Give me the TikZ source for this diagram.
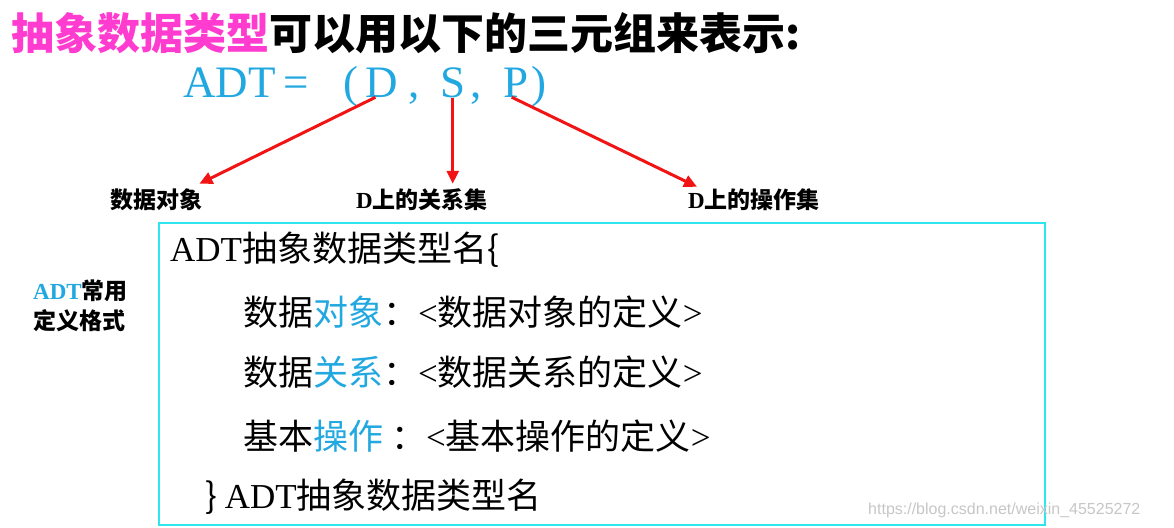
\documentclass[tikz,border=0pt]{standalone}
\usepackage{fontspec}
\usepackage{xcolor}
\setmainfont{Liberation Serif}
\newfontfamily\cjk{Noto Sans CJK SC}
\newfontfamily\marksans{Liberation Sans}
\usetikzlibrary{arrows.meta}
\definecolor{adt-blue}{HTML}{22A8E0}
\definecolor{title-pink}{HTML}{FF3CCF}
\definecolor{frame-cyan}{HTML}{2EE6EE}
\definecolor{arrow-red}{HTML}{F21414}
\newcommand{\adthl}[1]{\textcolor{adt-blue}{#1}}
\newcommand{\seriftxt}[1]{{\rmfamily #1}}
\tikzset{
    title-text/.style = {anchor=west, inner sep=0pt, font=\cjk\bfseries\fontsize{43}{43}\selectfont},
    adt-letter/.style = {anchor=base west, inner sep=0pt, text=adt-blue, font=\fontsize{45}{45}\selectfont},
    red-arrow/.style = {draw=arrow-red, line width=3pt, -{Triangle[length=13pt,width=12pt]}},
    set-label/.style = {anchor=west, inner sep=0pt, font=\cjk\bfseries\fontsize{23}{23}\selectfont},
    def-box/.style = {draw=frame-cyan, line width=1.2pt, minimum width=886pt, minimum height=302pt, inner sep=0pt},
    def-line/.style = {anchor=west, inner sep=0pt, font=\cjk\fontsize{35}{35}\selectfont},
}

\begin{document}
\begin{tikzpicture}[x=1pt, y=-1pt]
\useasboundingbox (0,0) rectangle (1174,527);
\node[title-text] (title) at (11,33) {\textcolor{title-pink}{抽象数据类型}可以用以下的三元组来表示:};

\node[adt-letter] (adt) at (183,97) {ADT};
\node[adt-letter] (eq) at (283,97) {=};
\node[adt-letter] (lpar) at (343,97) {(};
\node[adt-letter] (d) at (365,97) {D};
\node[adt-letter] (c1) at (408,97) {,};
\node[adt-letter] (s) at (440,97) {S};
\node[adt-letter] (c2) at (470,97) {,};
\node[adt-letter] (p) at (503,97) {P};
\node[adt-letter] (rpar) at (531,97) {)};

\node[set-label] (obj-set) at (110,200) {数据对象};
\node[set-label] (rel-set) at (356,200) {{\rmfamily\bfseries D}上的关系集};
\node[set-label] (op-set) at (688,200) {{\rmfamily\bfseries D}上的操作集};

\draw[red-arrow] ([xshift=-6pt]d.south) -- ([shift={(-3pt,5pt)}]obj-set.north east);
\draw[red-arrow] (s.south) -- ([yshift=5pt]s.south |- rel-set.north);
\draw[red-arrow] ([xshift=-4pt]p.south) -- ([shift={(9pt,2pt)}]op-set.north west);

\node[set-label] (note-a) at (33,291) {\seriftxt{\bfseries\adthl{ADT}}常用};
\node[set-label] (note-b) at (33,321) {定义格式};

\node[def-box] (frame) at (602,374) {};
\node[def-line] (head) at (170,250) {\seriftxt{ADT}抽象数据类型名\{};
\node[def-line] (obj) at (243,312) {数据\adthl{对象}：\seriftxt{<}数据对象的定义\seriftxt{>}};
\node[def-line] (rel) at (243,372) {数据\adthl{关系}：\seriftxt{<}数据关系的定义\seriftxt{>}};
\node[def-line] (ops) at (243,436) {基本\adthl{操作} ：\seriftxt{<}基本操作的定义\seriftxt{>}};
\node[def-line] (tail) at (205,497) {\} \seriftxt{ADT}抽象数据类型名};

\node[anchor=west, inner sep=0pt, text=gray!45, font=\marksans\fontsize{16}{16}\selectfont] (mark) at (868,510) {https://blog.csdn.net/weixin\_45525272};
\end{tikzpicture}
\end{document}
